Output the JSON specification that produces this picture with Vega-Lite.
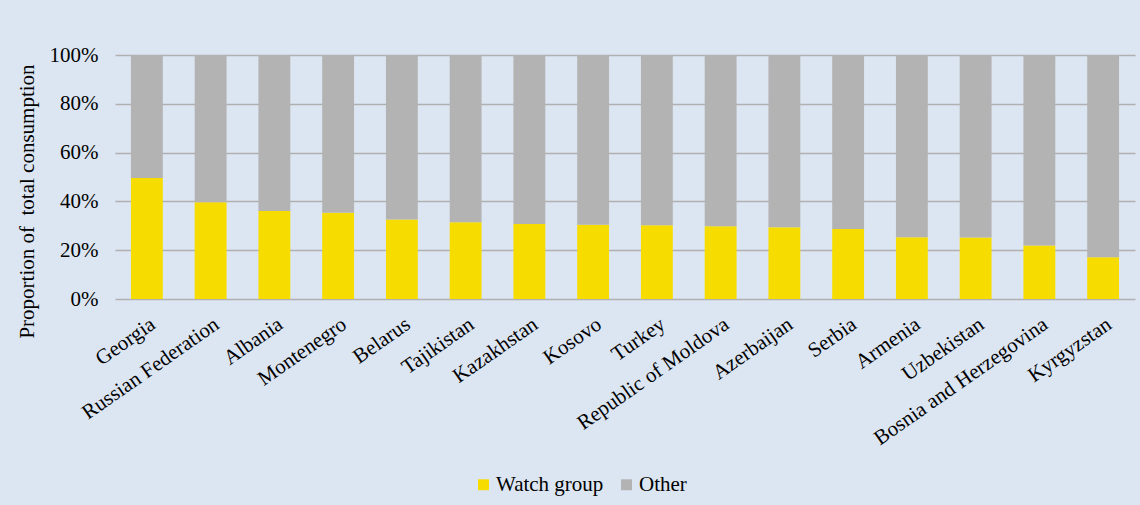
{
  "$schema": "https://vega.github.io/schema/vega-lite/v6.json",
  "width": 1020,
  "height": 244,
  "autosize": {"type": "none"},
  "padding": {"left": 115, "top": 55, "right": 5, "bottom": 206},
  "background": "#DCE6F2",
  "config": {
    "view": {"stroke": null},
    "font": "Liberation Serif",
    "axis": {"labelFont": "Liberation Serif", "titleFont": "Liberation Serif", "labelColor": "#000000", "titleColor": "#000000"},
    "legend": {"labelFont": "Liberation Serif", "labelColor": "#000000"}
  },
  "data": {
    "values": [
      {"country": "Georgia", "group": "Watch group", "value": 0.496, "ord": 1},
      {"country": "Georgia", "group": "Other", "value": 0.504, "ord": 2},
      {"country": "Russian Federation", "group": "Watch group", "value": 0.397, "ord": 1},
      {"country": "Russian Federation", "group": "Other", "value": 0.603, "ord": 2},
      {"country": "Albania", "group": "Watch group", "value": 0.361, "ord": 1},
      {"country": "Albania", "group": "Other", "value": 0.639, "ord": 2},
      {"country": "Montenegro", "group": "Watch group", "value": 0.353, "ord": 1},
      {"country": "Montenegro", "group": "Other", "value": 0.647, "ord": 2},
      {"country": "Belarus", "group": "Watch group", "value": 0.326, "ord": 1},
      {"country": "Belarus", "group": "Other", "value": 0.674, "ord": 2},
      {"country": "Tajikistan", "group": "Watch group", "value": 0.315, "ord": 1},
      {"country": "Tajikistan", "group": "Other", "value": 0.685, "ord": 2},
      {"country": "Kazakhstan", "group": "Watch group", "value": 0.307, "ord": 1},
      {"country": "Kazakhstan", "group": "Other", "value": 0.693, "ord": 2},
      {"country": "Kosovo", "group": "Watch group", "value": 0.304, "ord": 1},
      {"country": "Kosovo", "group": "Other", "value": 0.696, "ord": 2},
      {"country": "Turkey", "group": "Watch group", "value": 0.302, "ord": 1},
      {"country": "Turkey", "group": "Other", "value": 0.698, "ord": 2},
      {"country": "Republic of Moldova", "group": "Watch group", "value": 0.298, "ord": 1},
      {"country": "Republic of Moldova", "group": "Other", "value": 0.702, "ord": 2},
      {"country": "Azerbaijan", "group": "Watch group", "value": 0.294, "ord": 1},
      {"country": "Azerbaijan", "group": "Other", "value": 0.706, "ord": 2},
      {"country": "Serbia", "group": "Watch group", "value": 0.287, "ord": 1},
      {"country": "Serbia", "group": "Other", "value": 0.713, "ord": 2},
      {"country": "Armenia", "group": "Watch group", "value": 0.253, "ord": 1},
      {"country": "Armenia", "group": "Other", "value": 0.747, "ord": 2},
      {"country": "Uzbekistan", "group": "Watch group", "value": 0.252, "ord": 1},
      {"country": "Uzbekistan", "group": "Other", "value": 0.748, "ord": 2},
      {"country": "Bosnia and Herzegovina", "group": "Watch group", "value": 0.219, "ord": 1},
      {"country": "Bosnia and Herzegovina", "group": "Other", "value": 0.781, "ord": 2},
      {"country": "Kyrgyzstan", "group": "Watch group", "value": 0.171, "ord": 1},
      {"country": "Kyrgyzstan", "group": "Other", "value": 0.829, "ord": 2}
    ]
  },
  "mark": {"type": "bar"},
  "encoding": {
    "x": {
      "field": "country",
      "type": "nominal",
      "sort": null,
      "scale": {"paddingInner": 0.5, "paddingOuter": 0.25},
      "axis": {
        "title": null,
        "ticks": false,
        "domain": false,
        "labelAngle": -35,
        "labelAlign": "right",
        "labelBaseline": "top",
        "labelFontSize": 21,
        "labelPadding": 14,
        "labelOverlap": false,
        "labelLimit": 300
      }
    },
    "y": {
      "field": "value",
      "type": "quantitative",
      "stack": "zero",
      "scale": {"domain": [0, 1]},
      "axis": {
        "title": "Proportion of\u00a0 total consumption",
        "titleFontSize": 21,
        "titleFontWeight": "normal",
        "titleX": -78,
        "titleY": 146,
        "titleAngle": -90,
        "titleBaseline": "bottom",
        "titleAlign": "center",
        "format": ".0%",
        "values": [0, 0.2, 0.4, 0.6, 0.8, 1],
        "labelFontSize": 21,
        "labelPadding": 17,
        "ticks": false,
        "domain": false,
        "gridColor": "#B0B0B0",
        "gridWidth": 1.5
      }
    },
    "color": {
      "field": "group",
      "type": "nominal",
      "scale": {"domain": ["Watch group", "Other"], "range": ["#F7DC00", "#B3B3B3"]},
      "legend": {
        "title": null,
        "orient": "none",
        "direction": "horizontal",
        "legendX": 358,
        "legendY": 419,
        "symbolType": "square",
        "symbolSize": 120,
        "symbolStrokeWidth": 0,
        "labelFontSize": 21,
        "columnPadding": 12,
        "labelOffset": 2
      }
    },
    "order": {"field": "ord", "type": "quantitative"}
  }
}
